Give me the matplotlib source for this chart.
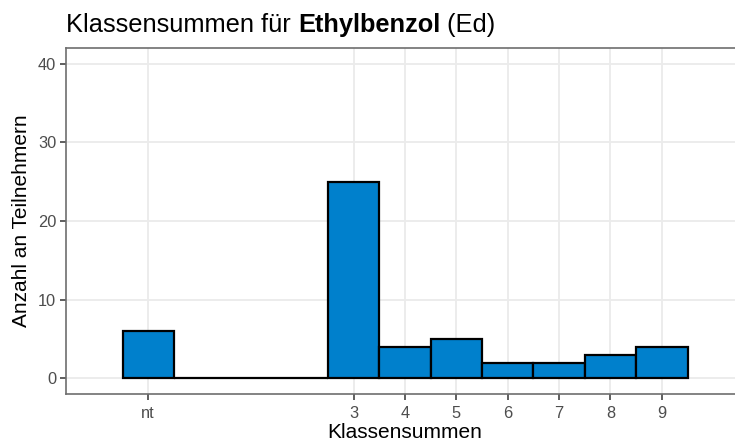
import matplotlib.pyplot as plt

plt.rcParams['font.family'] = ['Liberation Sans', 'DejaVu Sans']

# Klassensummen (nt = nicht getestet) und Anzahl Teilnehmer
positions = [-1, 0, 1, 2, 3, 4, 5, 6, 7, 8, 9]
counts = [6, 0, 0, 0, 25, 4, 5, 2, 2, 3, 4]
tick_pos = [-1, 3, 4, 5, 6, 7, 8, 9]
tick_labels = ['nt', '3', '4', '5', '6', '7', '8', '9']
y_ticks = [0, 10, 20, 30, 40]

fig = plt.figure(figsize=(7.35, 4.43), dpi=100)
ax = fig.add_axes([66 / 735, 49 / 443, 678 / 735, 346 / 443])

ax.bar(positions, counts, width=1, color='#0080CC', edgecolor='black',
       linewidth=1.6, zorder=3)

ax.set_xlim(-2.6, 10.6)
ax.set_ylim(-2, 42)
ax.set_xticks(tick_pos)
ax.set_xticklabels(tick_labels)
ax.set_yticks(y_ticks)

ax.grid(True, color='#EBEBEB', linewidth=1.3, zorder=0)
ax.set_axisbelow(True)

for side in ['left', 'bottom', 'top']:
    ax.spines[side].set_color('#6E6E6E')
    ax.spines[side].set_linewidth(1.2)
ax.spines['right'].set_visible(False)

ax.tick_params(axis='both', colors='#333333', length=4, width=1.1,
               labelsize=11.8, labelcolor='#4D4D4D')
ax.tick_params(axis='x', pad=5)
ax.tick_params(axis='y', pad=3)

ax.set_xlabel('Klassensummen', fontsize=15, color='black', labelpad=1)
ax.set_ylabel('Anzahl an Teilnehmern', fontsize=15, color='black', labelpad=5)

# Titel mit fettem Stoffnamen
title_y = 1 - 32 / 443
t0 = fig.text(66 / 735, title_y, 'Klassensummen für ', fontsize=18.3,
              ha='left', va='baseline')
fig.canvas.draw()
r = fig.canvas.get_renderer()
bb = t0.get_window_extent(r)
t1 = fig.text(bb.x1 / fig.bbox.width, title_y, 'Ethylbenzol', fontsize=18.3,
              fontweight='bold', ha='left', va='baseline')
bb1 = t1.get_window_extent(r)
fig.text(bb1.x1 / fig.bbox.width, title_y, ' (Ed)', fontsize=18.3,
         ha='left', va='baseline')

fig.savefig('out.png', dpi=100)
